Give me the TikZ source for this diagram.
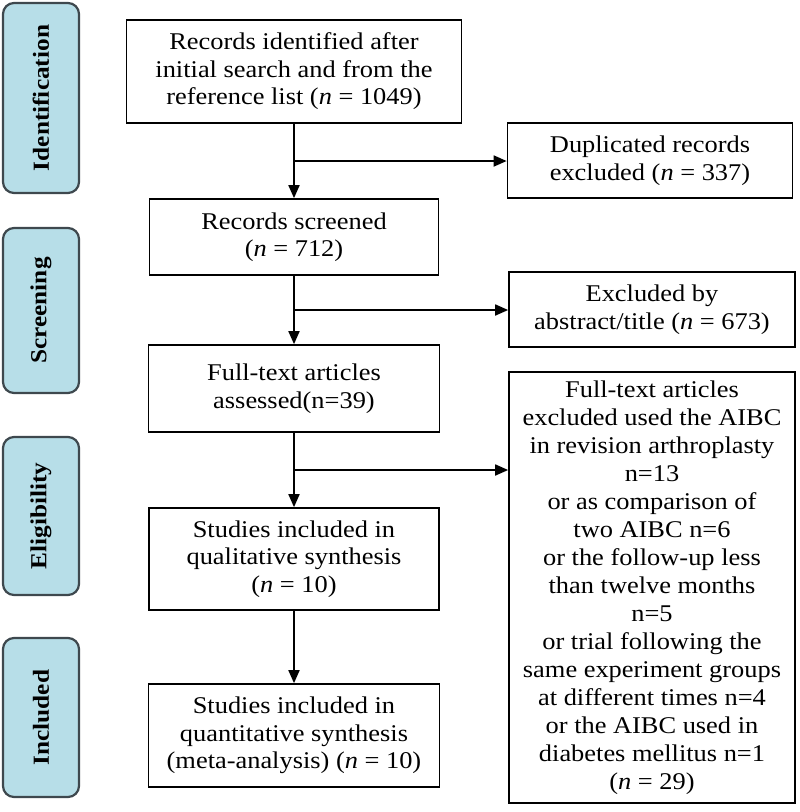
\documentclass[tikz,border=0pt]{standalone}
\usepackage{fontspec}
\setmainfont{Liberation Serif}[FakeStretch=1.1]
\usepackage{tikz}
\usetikzlibrary{positioning,calc,arrows.meta}

\definecolor{stagefill}{RGB}{183,222,232}
\definecolor{stageline}{RGB}{62,72,78}

\tikzset{
  box/.style={draw, line width=1.7pt, align=center, inner sep=2pt,
    font=\fontsize{24}{27.5}\selectfont},
  stage/.style={draw=stageline, fill=stagefill, rounded corners=11pt,
    line width=2.2pt, rotate=90, minimum height=76pt,
    font=\fontsize{23}{27}\selectfont\bfseries},
  flow/.style={line width=1.8pt, -{Triangle[length=13pt,width=11pt]}},
}

\begin{document}
\begin{tikzpicture}[x=1pt,y=-1pt]
\useasboundingbox (0,0) rectangle (800,812);

      % stages on the left
      \node[stage, minimum width=190pt] (ident) at (41,98) {Identification};
      \node[stage, minimum width=165pt] (screen) at (41,310.5) {Screening};
      \node[stage, minimum width=158pt] (elig) at (41,516) {Eligibility};
      \node[stage, minimum width=159pt] (incl) at (41,717.5) {Included};

      % main column
      \node[box, minimum width=335pt, minimum height=103pt] (found) at (294,71.5)
        {Records identified after\\ initial search and from the\\ reference list (\textit{n} = 1049)};
      \node[box, minimum width=289pt, minimum height=76pt] (screened) at (294,237)
        {Records screened\\ (\textit{n} = 712)};
      \node[box, minimum width=291pt, minimum height=87pt] (assessed) at (294,388.5)
        {Full-text articles\\ assessed(n=39)};
      \node[box, minimum width=290pt, minimum height=102pt] (qual) at (294,559)
        {Studies included in\\ qualitative synthesis\\ (\textit{n} = 10)};
      \node[box, minimum width=291pt, minimum height=103pt] (quant) at (294,735.5)
        {Studies included in\\ quantitative synthesis\\ (meta-analysis) (\textit{n} = 10)};

      % excluded column
      \node[box, minimum width=285pt, minimum height=75pt] (dup) at (650,160.5)
        {Duplicated records\\ excluded (\textit{n} = 337)};
      \node[box, minimum width=286pt, minimum height=75pt] (abstr) at (652,309.5)
        {Excluded by\\ abstract/title (\textit{n} = 673)};
      \node[box, minimum width=286pt, minimum height=431pt,
            font=\fontsize{24}{28}\selectfont] (ftex) at (652,587.5)
        {Full-text articles\\ excluded used the AIBC\\ in revision arthroplasty\\ n=13\\
         or as comparison of\\ two AIBC n=6\\ or the follow-up less\\ than twelve months\\ n=5\\
         or trial following the\\ same experiment groups\\ at different times n=4\\
         or the AIBC used in\\ diabetes mellitus n=1\\ (\textit{n} = 29)};

      \draw[flow] (found) -- (screened);
      \draw[flow] (screened) -- (assessed);
      \draw[flow] (assessed) -- (qual);
      \draw[flow] (qual) -- (quant);

      \coordinate (j1) at ($(found.south)!0.5!(screened.north)$);
      \coordinate (j2) at ($(screened.south)!0.5!(assessed.north)$);
      \coordinate (j3) at ($(assessed.south)!0.5!(qual.north)$);
      \draw[flow] (j1) -- (j1 -| dup.west);
      \draw[flow] (j2) -- (j2 -| abstr.west);
      \draw[flow] (j3) -- (j3 -| ftex.west);
    \end{tikzpicture}
\end{document}
